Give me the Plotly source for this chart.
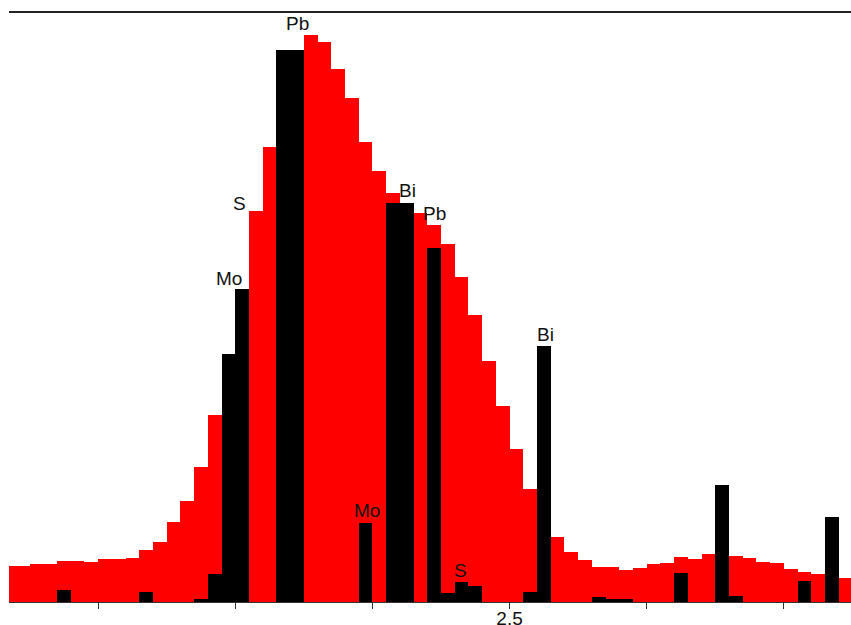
import plotly.graph_objects as go

# Bin start energies (keV), bin width 0.01
bin_width = 0.01
red_start = 2.13
red_counts = [6.15, 6.15, 6.39, 6.39, 6.9, 6.9, 6.73, 7.29, 7.29, 7.51,
              8.76, 10.17, 13.5, 17.17, 22.93, 31.69, 41.0, 52.0, 66.2, 77.1,
              86.0, 93.0, 96.15, 94.97, 90.29, 85.37, 78.02, 73.1, 69.37, 67.0,
              65.88, 63.9, 60.68, 55.14, 48.59, 40.9, 33.2, 25.88, 19.15, 14.7,
              10.97, 8.56, 7.12, 5.98, 5.98, 5.42, 5.81, 6.39, 6.56, 7.68,
              7.34, 8.08, 8.1, 7.85, 7.51, 6.73, 6.56, 5.59, 5.03, 4.69,
              4.4, 4.02]

black_bins = [2.17, 2.23, 2.27, 2.28, 2.29, 2.30, 2.33, 2.34, 2.39, 2.41,
              2.42, 2.44, 2.45, 2.46, 2.47, 2.51, 2.52, 2.56, 2.57, 2.58,
              2.62, 2.65, 2.66, 2.71, 2.73]
black_counts = [1.98, 1.64, 0.5, 4.75, 41.98, 53.05, 93.56, 93.56, 13.44, 67.68,
                67.68, 59.95, 1.47, 3.34, 2.71, 1.75, 43.39, 0.85, 0.5, 0.5,
                4.86, 19.83, 1.07, 3.56, 14.46]

label_text = ["Pb", "S", "Mo", "Bi", "Pb", "Mo", "S", "Bi"]
label_energy = [2.3455, 2.3034, 2.2953, 2.4254, 2.4456, 2.396, 2.4645, 2.5263]
label_level = [97.97, 67.6, 54.9, 69.75, 65.93, 15.5, 5.42, 45.34]

tick_vals = [2.2, 2.3, 2.4, 2.5, 2.6, 2.7]
tick_text = ["", "", "", "2.5", "", ""]

red_x = [red_start + bin_width * (i + 0.5) for i in range(len(red_counts))]
black_x = [b + bin_width / 2 for b in black_bins]

fig = go.Figure()
fig.add_trace(go.Bar(x=red_x, y=red_counts, width=bin_width,
                     marker=dict(color="#ff0000", line=dict(width=0)),
                     hoverinfo="skip"))
fig.add_trace(go.Bar(x=black_x, y=black_counts, width=bin_width,
                     marker=dict(color="#000000", line=dict(width=0)),
                     hoverinfo="skip"))

for t, e, lv in zip(label_text, label_energy, label_level):
    fig.add_annotation(x=e, y=lv, text=t, showarrow=False,
                       xanchor="center", yanchor="middle",
                       font=dict(family="Arial, Liberation Sans", size=19, color="#111111"))

fig.add_shape(type="line", xref="paper", yref="paper", x0=0, x1=1, y0=1, y1=1,
              line=dict(color="#222222", width=2))

fig.update_layout(
    width=851, height=625,
    margin=dict(l=9, r=0, t=12, b=23),
    barmode="overlay",
    bargap=0,
    showlegend=False,
    plot_bgcolor="white",
    paper_bgcolor="white",
    xaxis=dict(range=[2.135, 2.749], tickvals=tick_vals, ticktext=tick_text,
               ticks="outside", ticklen=6, tickwidth=1, tickcolor="#333333",
               ticklabelstandoff=-7, automargin=False,
               showline=True, linecolor="#333333", linewidth=1,
               showgrid=False, zeroline=False,
               tickfont=dict(family="Arial, Liberation Sans", size=19, color="#111111")),
    yaxis=dict(range=[0, 100], visible=False, showgrid=False, zeroline=False,
               automargin=False),
)

fig.write_html("out.html", config={"displayModeBar": False},
               post_script="document.body.style.margin='0';document.body.style.overflow='hidden';")
